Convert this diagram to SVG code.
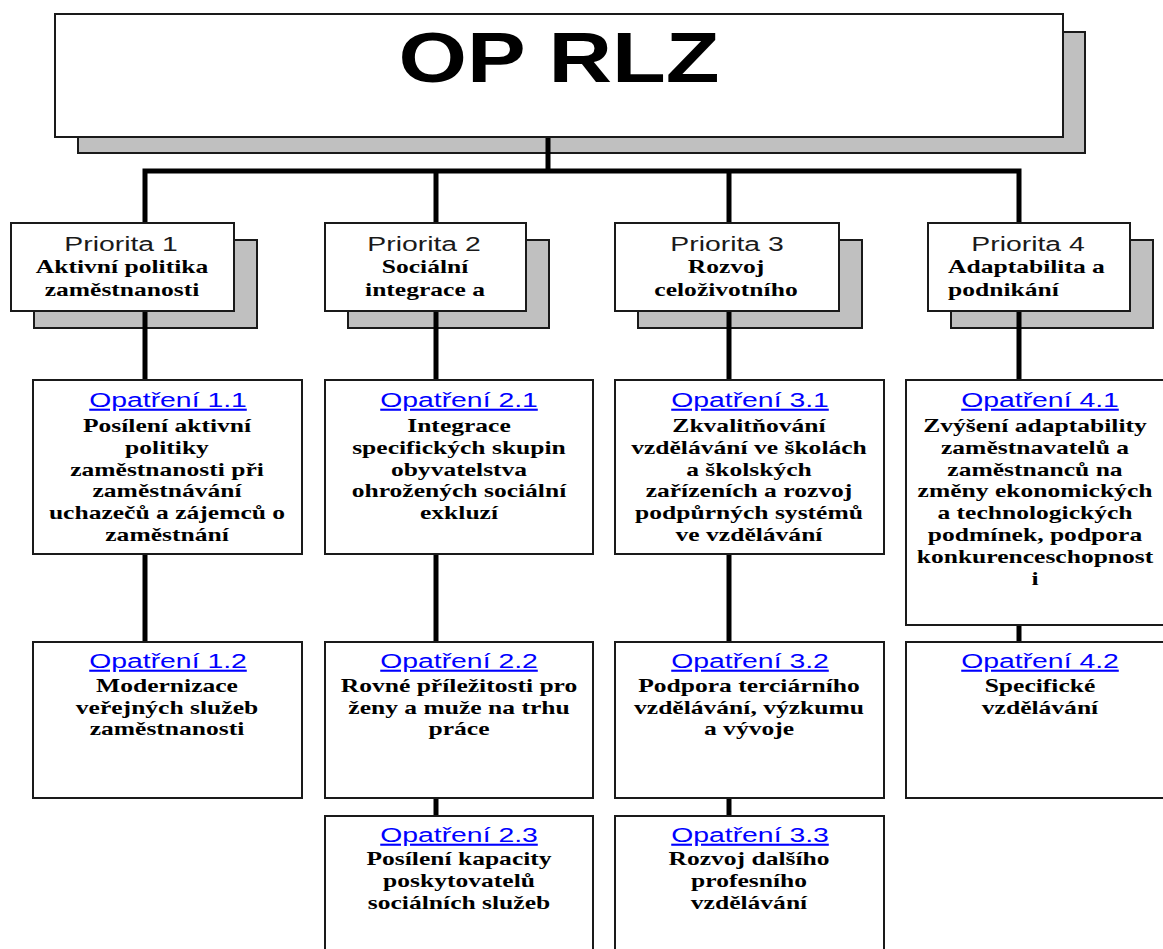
<svg xmlns="http://www.w3.org/2000/svg" width="1163" height="949" viewBox="0 0 1163 949">
<style>
.box{fill:#fff;stroke:#1a1a1a;stroke-width:2}
.shd{fill:#c0c0c0;stroke:#1a1a1a;stroke-width:2}
.b{font-family:"Liberation Serif","Times New Roman",serif;font-weight:bold;font-size:18px;fill:#000;text-anchor:middle}
.bl{text-anchor:start}
.lab{font-family:"Liberation Sans",Arial,sans-serif;font-size:21px;fill:#1a1a1a;text-anchor:middle}
.lnk{font-family:"Liberation Sans",Arial,sans-serif;font-size:21px;fill:#0000ff;text-anchor:middle;text-decoration:underline}
.title{font-family:"Liberation Sans",Arial,sans-serif;font-weight:bold;font-size:71px;fill:#000;text-anchor:middle}
.con{fill:none;stroke:#000;stroke-width:5;stroke-linejoin:miter}
</style>
<rect width="1163" height="949" fill="#fff"/>

<g id="node-op-rlz">
<rect class="shd" x="78" y="32" width="1007" height="121"/>
<rect class="box" x="55" y="14" width="1008" height="123"/>
<g transform="translate(559 0) scale(1.24 1)"><text class="title" x="0" y="82">OP RLZ</text></g>
</g>

<g id="node-priorita-1">
<rect class="shd" x="34" y="240" width="223" height="88"/>
<rect class="box" x="11" y="223" width="223" height="88"/>
<g transform="translate(121 0) scale(1.35 1)"><text class="lab" x="0" y="251">Priorita 1</text></g>
<g transform="translate(122 0) scale(1.42 1)">
<text class="b" x="0" y="273">Aktivní politika</text>
<text class="b" x="0" y="296">zaměstnanosti</text>
</g>
</g>

<g id="node-priorita-2">
<rect class="shd" x="348" y="240" width="201" height="88"/>
<rect class="box" x="325" y="223" width="201" height="88"/>
<g transform="translate(424 0) scale(1.35 1)"><text class="lab" x="0" y="251">Priorita 2</text></g>
<g transform="translate(425 0) scale(1.42 1)">
<text class="b" x="0" y="273">Sociální</text>
<text class="b" x="0" y="296">integrace a</text>
</g>
</g>

<g id="node-priorita-3">
<rect class="shd" x="638" y="240" width="224" height="88"/>
<rect class="box" x="615" y="223" width="224" height="88"/>
<g transform="translate(727 0) scale(1.35 1)"><text class="lab" x="0" y="251">Priorita 3</text></g>
<g transform="translate(726 0) scale(1.42 1)">
<text class="b" x="0" y="273">Rozvoj</text>
<text class="b" x="0" y="296">celoživotního</text>
</g>
</g>

<g id="node-priorita-4">
<rect class="shd" x="951" y="240" width="202" height="88"/>
<rect class="box" x="928" y="223" width="202" height="88"/>
<g transform="translate(1028 0) scale(1.35 1)"><text class="lab" x="0" y="251">Priorita 4</text></g>
<g transform="translate(948 0) scale(1.42 1)">
<text class="b bl" x="0" y="273">Adaptabilita a</text>
<text class="b bl" x="0" y="296">podnikání</text>
</g>
</g>

<g id="node-opatreni-1-1">
<rect class="box" x="33" y="380" width="269" height="174"/>
<g transform="translate(168 0) scale(1.35 1)"><text class="lnk" x="0" y="407">Opatření 1.1</text></g>
<g transform="translate(167 0) scale(1.42 1)">
<text class="b" x="0" y="432">Posílení aktivní</text>
<text class="b" x="0" y="454">politiky</text>
<text class="b" x="0" y="476">zaměstnanosti při</text>
<text class="b" x="0" y="497">zaměstnávání</text>
<text class="b" x="0" y="519">uchazečů a zájemců o</text>
<text class="b" x="0" y="541">zaměstnání</text>
</g>
</g>

<g id="node-opatreni-2-1">
<rect class="box" x="325" y="380" width="268" height="174"/>
<g transform="translate(459 0) scale(1.35 1)"><text class="lnk" x="0" y="407">Opatření 2.1</text></g>
<g transform="translate(459 0) scale(1.42 1)">
<text class="b" x="0" y="432">Integrace</text>
<text class="b" x="0" y="454">specifických skupin</text>
<text class="b" x="0" y="476">obyvatelstva</text>
<text class="b" x="0" y="497">ohrožených sociální</text>
<text class="b" x="0" y="519">exkluzí</text>
</g>
</g>

<g id="node-opatreni-3-1">
<rect class="box" x="615" y="380" width="269" height="174"/>
<g transform="translate(750 0) scale(1.35 1)"><text class="lnk" x="0" y="407">Opatření 3.1</text></g>
<g transform="translate(749 0) scale(1.42 1)">
<text class="b" x="0" y="432">Zkvalitňování</text>
<text class="b" x="0" y="454">vzdělávání ve školách</text>
<text class="b" x="0" y="476">a školských</text>
<text class="b" x="0" y="497">zařízeních a rozvoj</text>
<text class="b" x="0" y="519">podpůrných systémů</text>
<text class="b" x="0" y="541">ve vzdělávání</text>
</g>
</g>

<g id="node-opatreni-4-1">
<rect class="box" x="906" y="380" width="280" height="245"/>
<g transform="translate(1040 0) scale(1.35 1)"><text class="lnk" x="0" y="407">Opatření 4.1</text></g>
<g transform="translate(1035 0) scale(1.42 1)">
<text class="b" x="0" y="432">Zvýšení adaptability</text>
<text class="b" x="0" y="454">zaměstnavatelů a</text>
<text class="b" x="0" y="476">zaměstnanců na</text>
<text class="b" x="0" y="497">změny ekonomických</text>
<text class="b" x="0" y="519">a technologických</text>
<text class="b" x="0" y="541">podmínek, podpora</text>
<text class="b" x="0" y="563">konkurenceschopnost</text>
<text class="b" x="0" y="585">i</text>
</g>
</g>

<g id="node-opatreni-1-2">
<rect class="box" x="33" y="642" width="269" height="156"/>
<g transform="translate(168 0) scale(1.35 1)"><text class="lnk" x="0" y="668">Opatření 1.2</text></g>
<g transform="translate(167 0) scale(1.42 1)">
<text class="b" x="0" y="692">Modernizace</text>
<text class="b" x="0" y="714">veřejných služeb</text>
<text class="b" x="0" y="735">zaměstnanosti</text>
</g>
</g>

<g id="node-opatreni-2-2">
<rect class="box" x="325" y="642" width="268" height="156"/>
<g transform="translate(459 0) scale(1.35 1)"><text class="lnk" x="0" y="668">Opatření 2.2</text></g>
<g transform="translate(459 0) scale(1.42 1)">
<text class="b" x="0" y="692">Rovné příležitosti pro</text>
<text class="b" x="0" y="714">ženy a muže na trhu</text>
<text class="b" x="0" y="735">práce</text>
</g>
</g>

<g id="node-opatreni-3-2">
<rect class="box" x="615" y="642" width="269" height="156"/>
<g transform="translate(750 0) scale(1.35 1)"><text class="lnk" x="0" y="668">Opatření 3.2</text></g>
<g transform="translate(749 0) scale(1.42 1)">
<text class="b" x="0" y="692">Podpora terciárního</text>
<text class="b" x="0" y="714">vzdělávání, výzkumu</text>
<text class="b" x="0" y="735">a vývoje</text>
</g>
</g>

<g id="node-opatreni-4-2">
<rect class="box" x="906" y="642" width="280" height="156"/>
<g transform="translate(1040 0) scale(1.35 1)"><text class="lnk" x="0" y="668">Opatření 4.2</text></g>
<g transform="translate(1040 0) scale(1.42 1)">
<text class="b" x="0" y="692">Specifické</text>
<text class="b" x="0" y="714">vzdělávání</text>
</g>
</g>

<g id="node-opatreni-2-3">
<rect class="box" x="325" y="816" width="268" height="150"/>
<g transform="translate(459 0) scale(1.35 1)"><text class="lnk" x="0" y="842">Opatření 2.3</text></g>
<g transform="translate(459 0) scale(1.42 1)">
<text class="b" x="0" y="865">Posílení kapacity</text>
<text class="b" x="0" y="887">poskytovatelů</text>
<text class="b" x="0" y="909">sociálních služeb</text>
</g>
</g>

<g id="node-opatreni-3-3">
<rect class="box" x="615" y="816" width="269" height="150"/>
<g transform="translate(750 0) scale(1.35 1)"><text class="lnk" x="0" y="842">Opatření 3.3</text></g>
<g transform="translate(749 0) scale(1.42 1)">
<text class="b" x="0" y="865">Rozvoj dalšího</text>
<text class="b" x="0" y="887">profesního</text>
<text class="b" x="0" y="909">vzdělávání</text>
</g>
</g>

<g id="connectors">
<path class="con" d="M548 138V171"/>
<path class="con" d="M145 222V171H1019V222"/>
<path class="con" d="M436 171V222"/>
<path class="con" d="M729 171V222"/>
<path class="con" d="M145 312V379"/>
<path class="con" d="M436 312V379"/>
<path class="con" d="M729 312V379"/>
<path class="con" d="M1019 312V379"/>
<path class="con" d="M145 555V641"/>
<path class="con" d="M436 555V641"/>
<path class="con" d="M729 555V641"/>
<path class="con" d="M1019 626V641"/>
<path class="con" d="M436 799V815"/>
<path class="con" d="M729 799V815"/>
</g>
</svg>
